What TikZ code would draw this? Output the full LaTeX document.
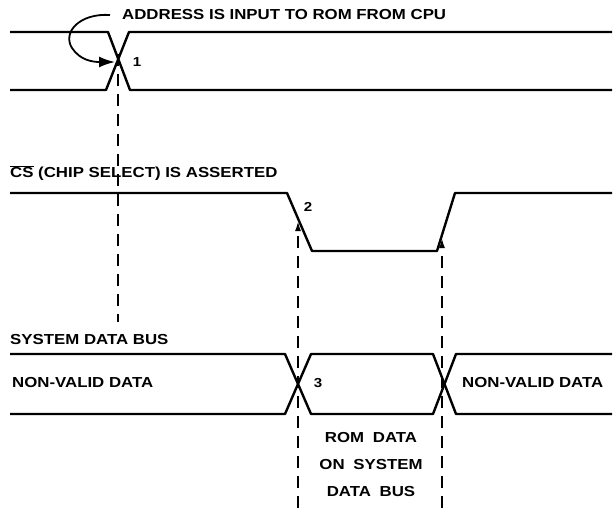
\documentclass[tikz,border=0pt]{standalone}
\usepackage{fontspec}
\setmainfont{Liberation Sans}[FakeStretch=1.16]
\usetikzlibrary{arrows.meta}
\begin{document}
\begin{tikzpicture}[x=1pt,y=-1pt,
  sig/.style={line width=2.4pt, line join=round},
  guide/.style={line width=1.8pt, dash pattern=on 12pt off 8pt},
  lbl/.style={font=\bfseries\fontsize{14.5}{16}\selectfont, inner sep=0pt, anchor=west},
  num/.style={font=\bfseries\fontsize{13}{15}\selectfont, inner sep=0pt},
  tipstyle/.style={-{Latex[length=10pt,width=6pt]}}]
\useasboundingbox (0,0) rectangle (615,508);

% ---- address signal
\draw[sig] (10,32) -- (108,32) -- (130,90) -- (612,90);
\draw[sig] (10,90) -- (106,90) -- (129,32) -- (612,32);
\coordinate (x1) at (118,62);
\node[lbl] (addr) at (122,15) {ADDRESS IS INPUT TO ROM FROM CPU};
\node[num] (n1) at (137,62) {1};
\draw[line width=1.8pt, -{Latex[length=16pt,width=11pt]}]
  ([xshift=-12pt]addr.west) .. controls (80,13) and (62,32) .. (72,48)
  .. controls (80,60) and (92,62) .. ([xshift=-3pt]x1);
\coordinate (d1bot) at (118,322);
\draw[guide] ([yshift=8pt]x1) -- (d1bot);

% ---- chip select
\node[lbl] (cs) at (10,173) {$\overline{\hbox{CS}}$ (CHIP SELECT) IS ASSERTED};
\draw[sig] (10,193) -- (287,193) -- (312,251) -- (437,251) -- (455,193) -- (612,193);
\coordinate (e2) at (298,221);
\coordinate (e3) at (442,238);
\node[num] (n2) at (308,207) {2};

% ---- system data bus
\node[lbl] (sdb) at (10,340) {SYSTEM DATA BUS};
\draw[sig] (10,354) -- (285,354) -- (311,414) -- (433,414) -- (456,354) -- (612,354);
\draw[sig] (10,414) -- (285,414) -- (311,354) -- (433,354) -- (456,414) -- (612,414);
\node[num] (n3) at (318,383) {3};
\node[lbl] (nv1) at (12,383) {NON-VALID DATA};
\node[lbl] (nv2) at (462,383) {NON-VALID DATA};

\coordinate (b2) at (298,508);
\coordinate (b3) at (442,508);
\draw[guide, tipstyle] (b2) -- (e2);
\draw[guide, tipstyle] (b3) -- (e3);

\node[font=\bfseries\fontsize{14.5}{27}\selectfont, align=center, inner sep=0pt] (rom) at (371,465)
  {ROM\hspace{0.6em}DATA\\ON\hspace{0.6em}SYSTEM\\DATA\hspace{0.6em}BUS};
\end{tikzpicture}
\end{document}
